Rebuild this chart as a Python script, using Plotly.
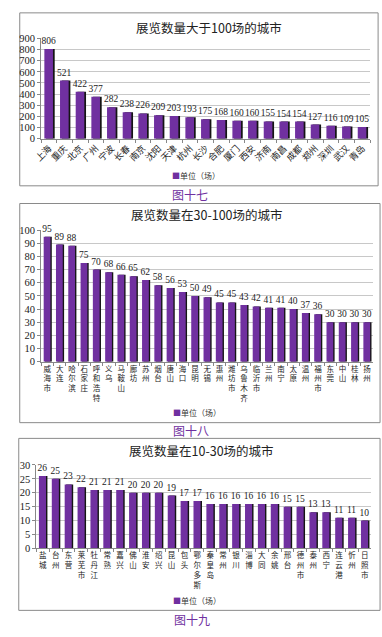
import plotly.graph_objects as go

W, H = 382, 637

# ---------------- data ----------------
title1 = "展览数量大于100场的城市"
cities1 = ["上海", "重庆", "北京", "广州", "宁波", "长春", "南京", "沈阳", "天津", "杭州", "长沙",
           "合肥", "厦门", "西安", "济南", "南昌", "成都", "郑州", "深圳", "武汉", "青岛"]
values1 = [806, 521, 422, 377, 282, 238, 226, 209, 203, 193, 175,
           168, 160, 160, 155, 154, 154, 127, 116, 109, 105]

title2 = "展览数量在30-100场的城市"
cities2 = ["威海市", "大连", "哈尔滨", "石家庄", "呼和浩特", "义乌", "马鞍山", "廊坊", "苏州", "烟台",
           "唐山", "海口", "昆明", "无锡", "惠州", "潍坊市", "乌鲁木齐", "临沂市", "兰州", "南宁",
           "太原", "温州", "福州市", "东莞", "中山", "桂林", "扬州"]
values2 = [95, 89, 88, 75, 70, 68, 66, 65, 62, 58,
           56, 53, 50, 49, 45, 45, 43, 42, 41, 41,
           40, 37, 36, 30, 30, 30, 30]

title3 = "展览数量在10-30场的城市"
cities3 = ["盐城", "台州", "东营", "莱芜市", "牡丹江", "常熟", "嘉兴", "佛山", "淮安", "绍兴",
           "昆山", "包头", "鄂尔多斯", "秦皇岛", "常州", "银川", "淄博", "大同", "余姚", "邢台",
           "德州市", "泰州", "西宁", "连云港", "忻州", "日照市"]
values3 = [26, 25, 23, 22, 21, 21, 21, 20, 20, 20,
           19, 17, 17, 16, 16, 16, 16, 16, 16, 15,
           15, 13, 13, 11, 11, 10]

captions = ["图十七", "图十八", "图十九"]
legend_name = "单位（场）"
y_ranges = [(0, 900), (0, 100), (0, 30)]
y_dticks = [100, 10, 5]

# ---------------- styling / layout ----------------
PURPLE = "#7030A0"
SERIF = "Liberation Serif, Noto Sans CJK SC, serif"
CJK = "Noto Sans CJK SC, Liberation Serif, serif"


def fx(x):
    return x / W


def fy(y):
    return 1 - y / H


charts = [
    dict(title=title1, cats=cities1, vals=values1, box=(11, 8, 378, 184), plot=(33, 34, 370, 136),
         title_xy=(205, 23), legend_xy=(192, 174), cap_xy=(185, 193), vertical=False),
    dict(title=title2, cats=cities2, vals=values2, box=(11, 202, 380, 425), plot=(33, 229, 373, 363),
         title_xy=(203, 213), legend_xy=(193, 415), cap_xy=(186, 433), vertical=True),
    dict(title=title3, cats=cities3, vals=values3, box=(10, 441, 380, 616), plot=(28, 468, 371, 553),
         title_xy=(197, 453), legend_xy=(193, 606), cap_xy=(187, 625), vertical=True),
]

fig = go.Figure()
layout = {}
shapes = []
annotations = []

for i, ch in enumerate(charts):
    n = "" if i == 0 else str(i + 1)
    xref, yref = "x" + n, "y" + n
    cats, vals = ch["cats"], ch["vals"]

    # dark side face (3D shadow)
    fig.add_trace(go.Bar(x=cats, y=vals, xaxis=xref, yaxis=yref, marker_color="#151515",
                         marker_line_width=0, width=0.55, offset=-0.19, showlegend=False,
                         hoverinfo="skip"))
    # purple front face
    fig.add_trace(go.Bar(x=cats, y=vals, xaxis=xref, yaxis=yref, marker_color=PURPLE,
                         marker_line_width=0, width=0.55, offset=-0.3, showlegend=False,
                         text=vals, textposition="outside", cliponaxis=False,
                         constraintext="none",
                         textfont=dict(family=SERIF, size=9.5, color="#222")))

    x0, y0, x1, y1 = ch["plot"]
    ticktext = ["<br>".join(c) for c in cats] if ch["vertical"] else cats
    layout["xaxis" + n] = dict(
        domain=[fx(x0), fx(x1)], anchor=yref, type="category",
        tickmode="array", tickvals=cats, ticktext=ticktext,
        tickangle=0 if ch["vertical"] else -45,
        tickfont=dict(family=CJK, size=7.5 if ch["vertical"] else 9, color="#222"),
        showline=True, linecolor="#888", linewidth=1,
        ticks="outside", ticklen=3, tickcolor="#888", tickson="boundaries",
        showgrid=False, zeroline=False, fixedrange=True,
    )
    layout["yaxis" + n] = dict(
        domain=[fy(y1), fy(y0)], anchor=xref, range=list(y_ranges[i]), dtick=y_dticks[i],
        tickfont=dict(family=SERIF, size=10.5, color="#222"),
        showline=True, linecolor="#888", linewidth=1,
        ticks="outside", ticklen=3, tickcolor="#888",
        showgrid=True, gridcolor="#C8C8C8", gridwidth=1, zeroline=False, fixedrange=True,
    )

    bx0, by0, bx1, by1 = ch["box"]
    shapes.append(dict(type="rect", xref="paper", yref="paper",
                       x0=fx(bx0), x1=fx(bx1), y0=fy(by1), y1=fy(by0),
                       line=dict(color="#8A8A8A", width=1), fillcolor="rgba(0,0,0,0)", layer="below"))

    tx, ty = ch["title_xy"]
    annotations.append(dict(text=ch["title"], x=fx(tx), y=fy(ty), xref="paper", yref="paper",
                            showarrow=False, xanchor="center", yanchor="middle",
                            font=dict(family=CJK, size=12.5, color="#222")))
    lx, ly = ch["legend_xy"]
    annotations.append(dict(text="<span style='color:%s'>■</span>%s" % (PURPLE, legend_name),
                            x=fx(lx), y=fy(ly), xref="paper", yref="paper",
                            showarrow=False, xanchor="center", yanchor="middle",
                            font=dict(family=CJK, size=8, color="#333")))
    cx, cy = ch["cap_xy"]
    annotations.append(dict(text=captions[i], x=fx(cx), y=fy(cy), xref="paper", yref="paper",
                            showarrow=False, xanchor="center", yanchor="middle",
                            font=dict(family=CJK, size=12, color="#7030A0")))

fig.update_layout(
    width=W, height=H, margin=dict(l=0, r=0, t=0, b=0),
    paper_bgcolor="white", plot_bgcolor="white",
    barmode="overlay", showlegend=False,
    shapes=shapes, annotations=annotations,
    **layout,
)

fig.write_html("out.html", config={"displayModeBar": False},
               post_script="document.body.style.margin='0';document.body.style.overflow='hidden';")
